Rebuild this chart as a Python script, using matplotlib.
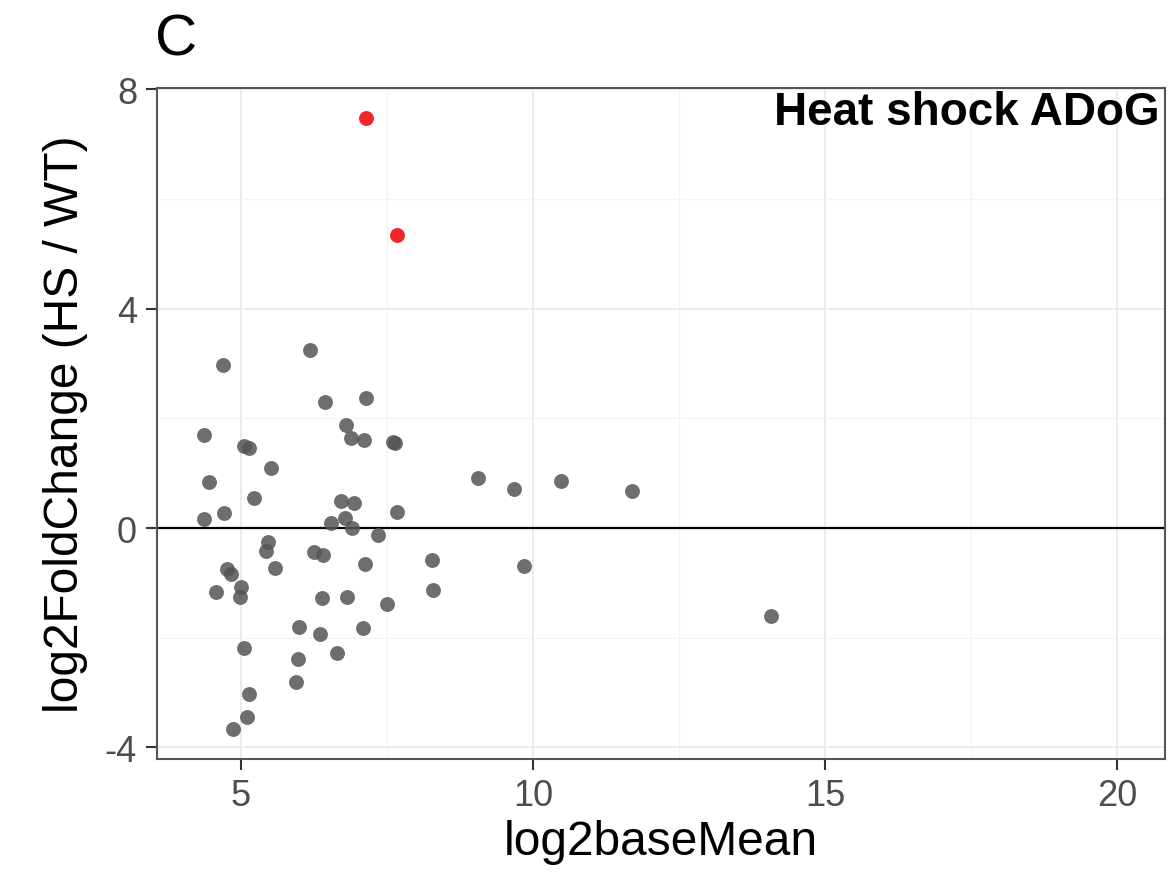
import numpy as np
import matplotlib
matplotlib.use("Agg")
import matplotlib.pyplot as plt

plt.rcParams['font.family'] = ['Liberation Sans', 'DejaVu Sans']
plt.rcParams['axes.unicode_minus'] = False

# grey points (log2baseMean, log2FoldChange)
grey_x = [4.70, 6.19, 6.44, 7.14, 6.80, 6.88, 7.11, 7.60, 7.64, 4.38,
          5.06, 5.15, 5.52, 4.46, 5.22, 6.72, 6.94, 7.67, 4.71, 4.38,
          6.78, 6.54, 6.91, 7.35, 5.47, 5.43, 6.26, 6.41, 5.59, 7.13,
          8.27, 4.76, 4.83, 5.01, 4.99, 4.57, 6.40, 6.82, 8.29, 7.51,
          6.00, 6.36, 7.09, 6.65, 5.06, 5.98, 5.95, 5.15, 5.10, 4.87,
          9.07, 9.67, 10.49, 11.70, 9.85, 14.08]
grey_y = [2.98, 3.24, 2.30, 2.37, 1.88, 1.65, 1.61, 1.57, 1.55, 1.70,
          1.49, 1.46, 1.09, 0.83, 0.55, 0.49, 0.45, 0.29, 0.27, 0.16,
          0.18, 0.09, 0.00, -0.12, -0.26, -0.41, -0.43, -0.49, -0.72, -0.66,
          -0.58, -0.75, -0.84, -1.07, -1.25, -1.16, -1.27, -1.25, -1.13, -1.38,
          -1.81, -1.93, -1.83, -2.28, -2.19, -2.38, -2.80, -3.02, -3.45, -3.67,
          0.92, 0.72, 0.85, 0.68, -0.70, -1.60]

# significant (red) points
red_x = [7.15, 7.68]
red_y = [7.47, 5.34]

x_ticks = [5, 10, 15, 20]
y_ticks = [-4, 0, 4, 8]

fig = plt.figure(figsize=(11.68, 8.79), dpi=100)
ax = fig.add_axes([0.134, 0.1354, 0.8635, 0.7633])

ax.set_xlim(3.56, 20.82)
ax.set_ylim(-4.21, 8.02)

ax.set_xticks(x_ticks)
ax.set_yticks(y_ticks)
ax.set_xticks([7.5, 12.5, 17.5], minor=True)
ax.set_yticks([-2, 2, 6], minor=True)
ax.grid(which='major', color='#ebebeb', linewidth=1.4)
ax.grid(which='minor', color='#f3f3f3', linewidth=0.9)
ax.set_axisbelow(True)

ax.axhline(0, color='black', linewidth=1.6, zorder=2)

ax.scatter(grey_x, grey_y, s=115, color='#555555', alpha=0.85, linewidths=0, zorder=3)
ax.scatter(red_x, red_y, s=115, color='#f0262a', linewidths=0, zorder=3)

for sp in ax.spines.values():
    sp.set_color('#555555')
    sp.set_linewidth(1.5)

ax.tick_params(which='major', length=8, width=1.5, color='#333333',
               labelsize=26, labelcolor='#4d4d4d', pad=6)
ax.tick_params(which='minor', length=0)

ax.set_xlabel('log2baseMean', fontsize=34.5, labelpad=4)
ax.set_ylabel('log2FoldChange (HS / WT)', fontsize=34.5, labelpad=12)

ax.text(0.995, 0.997, 'Heat shock ADoG', transform=ax.transAxes,
        ha='right', va='top', fontsize=33, fontweight='bold')

fig.text(0.133, 0.985, 'C', fontsize=42, ha='left', va='top')

fig.savefig('out.png', dpi=100)
